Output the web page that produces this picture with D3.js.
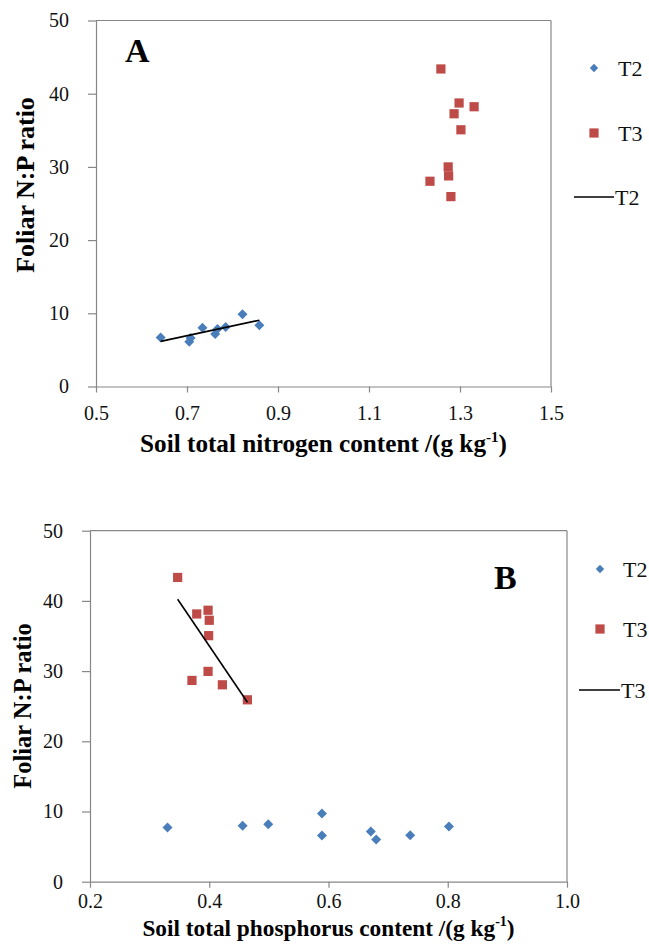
<!DOCTYPE html>
<html>
<head>
<meta charset="utf-8">
<script src="https://cdn.jsdelivr.net/npm/d3@7"></script>
<style>
  html, body { margin: 0; padding: 0; background: #fff; }
  svg { display: block; }
  svg text { font-family: "Liberation Serif", "Times New Roman", "DejaVu Serif", serif !important; }
</style>
</head>
<body>
<script>
// ---------- DATA ----------
const seriesNames = ["T2", "T3"];
const yTicks = [0, 10, 20, 30, 40, 50];
const xTicksA = [0.5, 0.7, 0.9, 1.1, 1.3, 1.5];
const xTicksB = [0.2, 0.4, 0.6, 0.8, 1.0];

// Panel A: soil total nitrogen vs foliar N:P
const aT2x = [0.642, 0.705, 0.708, 0.734, 0.762, 0.767, 0.785, 0.822, 0.859];
const aT2y = [6.71, 6.12, 6.63, 8.04, 7.17, 7.86, 8.13, 9.86, 8.36];
const aT3x = [1.258, 1.298, 1.331, 1.287, 1.302, 1.274, 1.275, 1.234, 1.280];
const aT3y = [43.38, 38.73, 38.22, 37.26, 35.07, 30.00, 28.77, 28.04, 25.94];

// Panel B: soil total phosphorus vs foliar N:P
const bT2x = [0.330, 0.456, 0.499, 0.589, 0.589, 0.671, 0.680, 0.737, 0.802];
const bT2y = [7.71, 7.96, 8.20, 9.71, 6.57, 7.14, 6.00, 6.62, 7.86];
const bT3x = [0.347, 0.379, 0.398, 0.400, 0.399, 0.398, 0.371, 0.422, 0.464];
const bT3y = [43.34, 38.14, 38.67, 37.24, 35.05, 29.96, 28.67, 28.05, 25.91];

// ---------- STYLE ----------
const W = 649, H = 948;
const BLUE = "#4A7EBB", RED = "#BE4B48", AXIS = "#878787";

const svg = d3.select("body").append("svg")
  .attr("width", W).attr("height", H);

function zip(xs, ys) { return xs.map((x, i) => ({x, y: ys[i]})); }

function regression(pts) {
  const mx = d3.mean(pts, d => d.x), my = d3.mean(pts, d => d.y);
  const sxy = d3.sum(pts, d => (d.x - mx) * (d.y - my));
  const sxx = d3.sum(pts, d => (d.x - mx) ** 2);
  const b = sxy / sxx, a = my - b * mx;
  const x0 = d3.min(pts, d => d.x), x1 = d3.max(pts, d => d.x);
  return [{x: x0, y: a + b * x0}, {x: x1, y: a + b * x1}];
}

function diamondPath(r) { return `M0,${-r}L${r},0L0,${r}L${-r},0Z`; }

function panel(cfg) {
  const {left, right, top, bottom, xDomain, xTicks, t2, t3, trend,
         xTitle, xTickDy, xTitleY, xTitleSize, yTitleX, yTitleY, yTitleSize,
         letter, letterX, letterY, legend} = cfg;
  const x = d3.scaleLinear().domain(xDomain).range([left, right]);
  const y = d3.scaleLinear().domain([0, 50]).range([bottom, top]);
  const g = svg.append("g");

  g.append("line").attr("x1", left).attr("x2", right).attr("y1", top).attr("y2", top)
    .attr("stroke", AXIS).attr("stroke-width", 1.2);
  g.append("line").attr("x1", right).attr("x2", right).attr("y1", top).attr("y2", bottom)
    .attr("stroke", AXIS).attr("stroke-width", 1.2);

  const xa = g.append("g").attr("transform", `translate(0,${bottom})`)
    .call(d3.axisBottom(x).tickValues(xTicks).tickFormat(d3.format(".1f")).tickSize(6).tickSizeOuter(0));
  xa.attr("font-family", null).attr("font-size", null);
  xa.select(".domain").attr("stroke", AXIS).attr("stroke-width", 1.2);
  xa.selectAll(".tick line").attr("stroke", AXIS).attr("stroke-width", 1.2);
  xa.selectAll(".tick text").style("font-size", "20px")
    .attr("fill", "#111").attr("y", xTickDy).attr("dy", 0);

  const ya = g.append("g").attr("transform", `translate(${left},0)`)
    .call(d3.axisLeft(y).tickValues(yTicks).tickSize(8).tickSizeOuter(0));
  ya.attr("font-family", null).attr("font-size", null);
  ya.select(".domain").attr("stroke", AXIS).attr("stroke-width", 1.2);
  ya.selectAll(".tick line").attr("stroke", AXIS).attr("stroke-width", 1.2);
  ya.selectAll(".tick text").style("font-size", "20px")
    .attr("fill", "#111").attr("x", -27);

  g.append("g").selectAll("path").data(t2).join("path")
    .attr("d", diamondPath(5))
    .attr("transform", d => `translate(${x(d.x)},${y(d.y)})`)
    .attr("fill", BLUE);
  g.append("g").selectAll("rect").data(t3).join("rect")
    .attr("x", d => x(d.x) - 4.6).attr("y", d => y(d.y) - 4.6)
    .attr("width", 9.2).attr("height", 9.2)
    .attr("fill", RED);

  g.append("path").datum(regression(trend))
    .attr("d", d3.line().x(d => x(d.x)).y(d => y(d.y)))
    .attr("stroke", "#000").attr("stroke-width", 1.6).attr("fill", "none");

  const xt = g.append("text").attr("x", (left + right) / 2).attr("y", xTitleY)
    .attr("text-anchor", "middle").style("font-weight", "bold").style("font-size", xTitleSize + "px");
  xt.append("tspan").text(xTitle + " /(g kg");
  xt.append("tspan").style("font-size", Math.round(xTitleSize * 0.6) + "px").attr("dy", -10).text("-1");
  xt.append("tspan").attr("dy", 10).text(")");

  g.append("text")
    .attr("transform", `translate(${yTitleX},${yTitleY}) rotate(-90)`)
    .attr("text-anchor", "middle").style("font-weight", "bold").style("font-size", yTitleSize + "px")
    .text("Foliar N:P ratio");

  g.append("text").attr("x", letterX).attr("y", letterY)
    .style("font-weight", "bold").style("font-size", "34px").text(letter);

  const lg = g.append("g");
  lg.append("path").attr("d", diamondPath(4.2))
    .attr("transform", `translate(${legend.mx},${legend.y0})`).attr("fill", BLUE);
  lg.append("text").attr("x", legend.tx).attr("y", legend.y0).attr("dy", "0.35em")
    .style("font-size", "22px").attr("fill", "#111").text(seriesNames[0]);
  lg.append("rect").attr("x", legend.mx - 4.6).attr("y", legend.y1 - 4.6)
    .attr("width", 9.2).attr("height", 9.2).attr("fill", RED);
  lg.append("text").attr("x", legend.tx).attr("y", legend.y1).attr("dy", "0.35em")
    .style("font-size", "22px").attr("fill", "#111").text(seriesNames[1]);
  lg.append("line").attr("x1", legend.lx0).attr("x2", legend.lx1)
    .attr("y1", legend.y2).attr("y2", legend.y2).attr("stroke", "#000").attr("stroke-width", 1.6);
  lg.append("text").attr("x", legend.lx1 + 1).attr("y", legend.y2).attr("dy", "0.35em")
    .style("font-size", "22px").attr("fill", "#111").text(legend.lineName);
}

const aT2 = zip(aT2x, aT2y), aT3 = zip(aT3x, aT3y);
const bT2 = zip(bT2x, bT2y), bT3 = zip(bT3x, bT3y);

panel({
  left: 96, right: 551, top: 20.5, bottom: 386.5,
  xDomain: [0.5, 1.5], xTicks: xTicksA, t2: aT2, t3: aT3, trend: aT2,
  xTitle: "Soil total nitrogen content", xTickDy: 33, xTitleY: 452, xTitleSize: 25.2,
  yTitleX: 34, yTitleY: 185, yTitleSize: 26,
  letter: "A", letterX: 125, letterY: 62,
  legend: {mx: 594, tx: 618, y0: 68, y1: 133, y2: 197, lx0: 574, lx1: 614, lineName: "T2"}
});

panel({
  left: 90, right: 567, top: 530.7, bottom: 881.7,
  xDomain: [0.2, 1.0], xTicks: xTicksB, t2: bT2, t3: bT3, trend: bT3,
  xTitle: "Soil total phosphorus content", xTickDy: 26, xTitleY: 936, xTitleSize: 23.3,
  yTitleX: 31, yTitleY: 706, yTitleSize: 24.5,
  letter: "B", letterX: 494, letterY: 589,
  legend: {mx: 600, tx: 623, y0: 569, y1: 629, y2: 690, lx0: 579, lx1: 620, lineName: "T3"}
});
</script>
</body>
</html>
